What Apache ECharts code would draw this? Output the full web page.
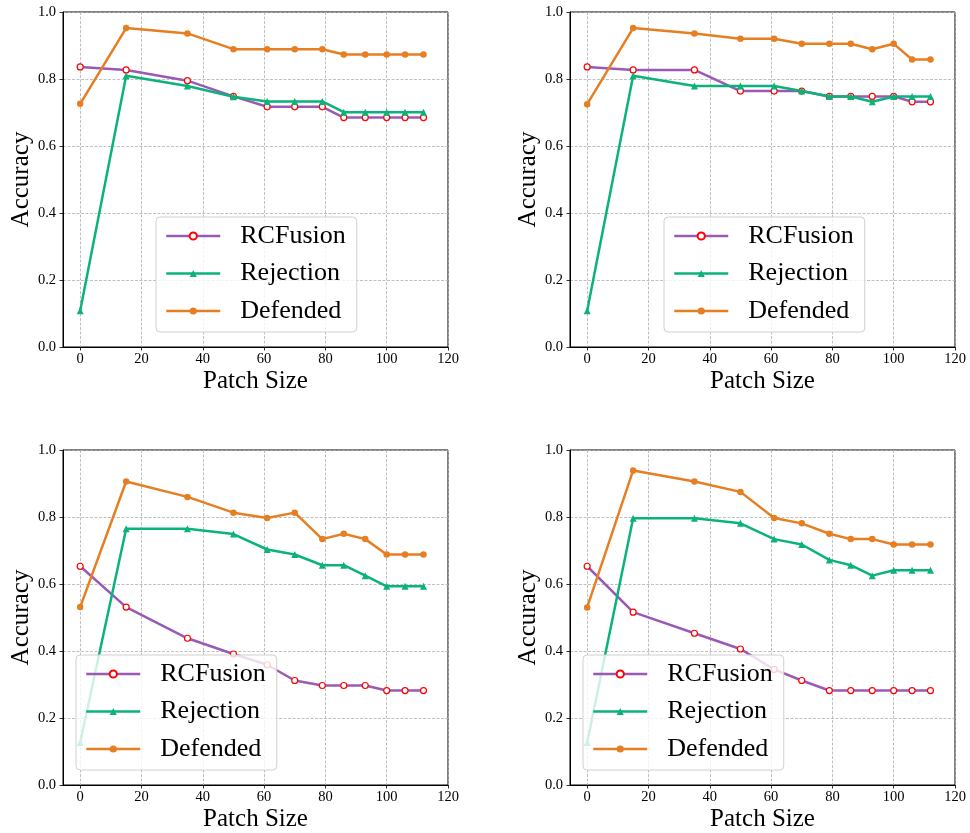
<!DOCTYPE html>
<html>
<head>
<meta charset="utf-8">
<script src="https://cdn.jsdelivr.net/npm/echarts@6/dist/echarts.min.js"></script>
<style>
  html, body { margin: 0; padding: 0; background: #fff; }
  #chart { width: 970px; height: 833px; }
</style>
</head>
<body>
<div id="chart"></div>
<script>
// Patch sizes shared by every panel
const patchSizes = [0, 15, 35, 50, 61, 70, 79, 86, 93, 100, 106, 112];
const xTicks = [0, 20, 40, 60, 80, 100, 120];
const yTicks = [0.0, 0.2, 0.4, 0.6, 0.8, 1.0];
const seriesNames = ['RCFusion', 'Rejection', 'Defended'];

// Panel 1 (top left)
const rcfusionA  = [0.836, 0.827, 0.795, 0.748, 0.717, 0.717, 0.717, 0.685, 0.685, 0.685, 0.685, 0.685];
const rejectionA = [0.108, 0.810, 0.779, 0.747, 0.733, 0.733, 0.733, 0.701, 0.701, 0.701, 0.701, 0.701];
const defendedA  = [0.726, 0.952, 0.936, 0.889, 0.889, 0.889, 0.889, 0.873, 0.873, 0.873, 0.873, 0.873];

// Panel 2 (top right)
const rcfusionB  = [0.836, 0.827, 0.827, 0.764, 0.764, 0.764, 0.748, 0.748, 0.748, 0.748, 0.732, 0.732];
const rejectionB = [0.108, 0.810, 0.779, 0.779, 0.779, 0.764, 0.748, 0.748, 0.732, 0.748, 0.748, 0.748];
const defendedB  = [0.725, 0.952, 0.936, 0.920, 0.920, 0.905, 0.905, 0.905, 0.889, 0.905, 0.858, 0.858];

// Panel 3 (bottom left)
const rcfusionC  = [0.653, 0.531, 0.438, 0.391, 0.359, 0.312, 0.297, 0.297, 0.297, 0.282, 0.282, 0.282];
const rejectionC = [0.127, 0.765, 0.765, 0.749, 0.703, 0.688, 0.656, 0.656, 0.625, 0.593, 0.593, 0.593];
const defendedC  = [0.531, 0.906, 0.860, 0.813, 0.797, 0.813, 0.734, 0.750, 0.734, 0.688, 0.688, 0.688];

// Panel 4 (bottom right)
const rcfusionD  = [0.653, 0.516, 0.453, 0.406, 0.345, 0.312, 0.282, 0.282, 0.282, 0.282, 0.282, 0.282];
const rejectionD = [0.127, 0.796, 0.796, 0.781, 0.734, 0.718, 0.672, 0.656, 0.625, 0.641, 0.641, 0.641];
const defendedD  = [0.530, 0.939, 0.906, 0.875, 0.797, 0.781, 0.750, 0.734, 0.734, 0.718, 0.718, 0.718];

const panels = [
  { rcf: rcfusionA, rej: rejectionA, def: defendedA },
  { rcf: rcfusionB, rej: rejectionB, def: defendedB },
  { rcf: rcfusionC, rej: rejectionC, def: defendedC },
  { rcf: rcfusionD, rej: rejectionD, def: defendedD }
];

const FONT = '"Liberation Serif", "Times New Roman", serif';
const PURPLE = '#9b59b6';
const GREEN = '#0bb27a';
const ORANGE = '#e67e22';

// Layout of the 2x2 grid of plots
const gridBoxes = [
  { left: 63,  top: 12,  width: 385, height: 335 },
  { left: 570, top: 12,  width: 385, height: 335 },
  { left: 63,  top: 450, width: 385, height: 335 },
  { left: 570, top: 450, width: 385, height: 335 }
];
const legendBoxes = [
  { left: 156, top: 217 },
  { left: 664, top: 217 },
  { left: 76,  top: 655 },
  { left: 583, top: 655 }
];

const pair = (ys) => patchSizes.map((x, i) => [x, ys[i]]);

const grid = gridBoxes.map(b => ({
  left: b.left, top: b.top, width: b.width, height: b.height,
  show: true, borderColor: '#000', borderWidth: 1, backgroundColor: 'transparent'
}));

const splitLine = { show: true, lineStyle: { color: '#b0b0b0', width: 0.8, type: [3, 1.5] } };
const tickFont = { fontFamily: FONT, fontSize: 14.5, color: '#000' };

const xAxis = gridBoxes.map((b, i) => ({
  type: 'value', gridIndex: i, min: -5.6, max: 120,
  name: 'Patch Size', nameLocation: 'middle', nameGap: 22,
  nameTextStyle: { fontFamily: FONT, fontSize: 25, color: '#000' },
  axisLine: { show: true, onZero: false, lineStyle: { color: '#000', width: 1 } },
  axisTick: { show: true, inside: false, length: 3.5, customValues: xTicks, lineStyle: { color: '#000', width: 0.8 } },
  axisLabel: Object.assign({ customValues: xTicks, margin: 5 }, tickFont),
  splitLine: splitLine
}));

const yAxis = gridBoxes.map((b, i) => ({
  type: 'value', gridIndex: i, min: 0, max: 1, interval: 0.2,
  name: 'Accuracy', nameLocation: 'middle', nameGap: 28,
  nameTextStyle: { fontFamily: FONT, fontSize: 25, color: '#000' },
  axisLine: { show: true, onZero: false, lineStyle: { color: '#000', width: 1 } },
  axisTick: { show: true, inside: false, length: 3.5, lineStyle: { color: '#000', width: 0.8 } },
  axisLabel: Object.assign({ margin: 7, formatter: v => v.toFixed(1) }, tickFont),
  splitLine: splitLine
}));

const series = [];
panels.forEach((p, i) => {
  series.push({
    name: 'RCFusion', type: 'line', xAxisIndex: i, yAxisIndex: i, data: pair(p.rcf),
    symbol: 'circle', symbolSize: 6, showAllSymbol: true,
    lineStyle: { color: PURPLE, width: 2.5 },
    itemStyle: { color: '#fff', borderColor: '#ff0000', borderWidth: 1.2 },
    emphasis: { disabled: true }, animation: false, z: 2
  });
  series.push({
    name: 'Rejection', type: 'line', xAxisIndex: i, yAxisIndex: i, data: pair(p.rej),
    symbol: 'triangle', symbolSize: 7, showAllSymbol: true,
    lineStyle: { color: GREEN, width: 2.5 },
    itemStyle: { color: GREEN, borderWidth: 0 },
    emphasis: { disabled: true }, animation: false, z: 3
  });
  series.push({
    name: 'Defended', type: 'line', xAxisIndex: i, yAxisIndex: i, data: pair(p.def),
    symbol: 'circle', symbolSize: 6.5, showAllSymbol: true,
    lineStyle: { color: ORANGE, width: 2.5 },
    itemStyle: { color: ORANGE, borderWidth: 0 },
    emphasis: { disabled: true }, animation: false, z: 4
  });
});

const legend = legendBoxes.map(b => ({
  data: seriesNames, orient: 'vertical', left: b.left, top: b.top,
  itemWidth: 54, itemHeight: 9, itemGap: 11.5,
  padding: [6, 11, 8, 9],
  backgroundColor: 'rgba(255,255,255,0.8)', borderColor: '#d0d0d0', borderWidth: 1, borderRadius: 4,
  selectedMode: false,
  lineStyle: { width: 2.5 },
  textStyle: { fontFamily: FONT, fontSize: 26, color: '#000', padding: [0, 0, 0, 15] }
}));

const chart = echarts.init(document.getElementById('chart'), null, { renderer: 'canvas' });
chart.setOption({
  animation: false,
  backgroundColor: '#fff',
  grid, xAxis, yAxis, series, legend
});
</script>
</body>
</html>
